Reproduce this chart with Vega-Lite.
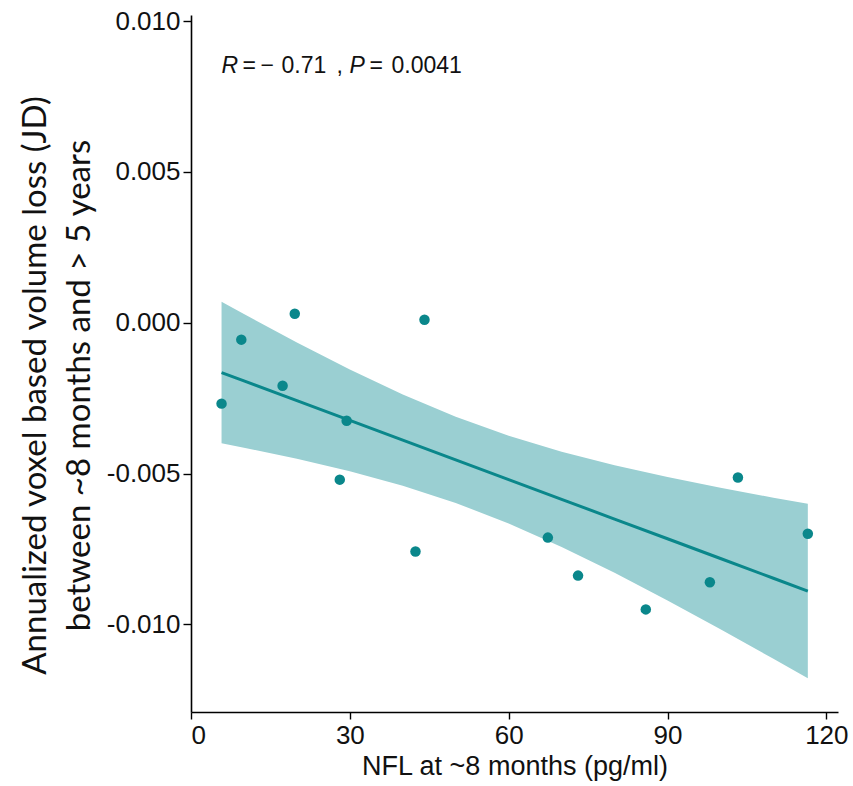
{
  "$schema": "https://vega.github.io/schema/vega-lite/v6.json",
  "width": 647,
  "height": 697,
  "autosize": "none",
  "padding": {"left": 191, "top": 15, "right": 15, "bottom": 74},
  "background": "white",
  "config": {
    "view": {"stroke": null},
    "axis": {"grid": false, "domainColor": "#000", "domainWidth": 1.6, "tickColor": "#000", "tickWidth": 1.4, "labelFont": "Liberation Sans", "labelColor": "#111", "titleColor": "#111", "titleFontWeight": "normal"}
  },
  "datasets": {
    "points": [
      {"nfl": 5.77, "loss": -0.00268},
      {"nfl": 9.5, "loss": -0.00056},
      {"nfl": 17.3, "loss": -0.00209},
      {"nfl": 19.6, "loss": 0.0003},
      {"nfl": 28.1, "loss": -0.0052},
      {"nfl": 29.4, "loss": -0.00325},
      {"nfl": 42.4, "loss": -0.00758},
      {"nfl": 44.1, "loss": 0.0001},
      {"nfl": 67.4, "loss": -0.00712},
      {"nfl": 73.1, "loss": -0.00838},
      {"nfl": 85.9, "loss": -0.0095},
      {"nfl": 98.0, "loss": -0.0086},
      {"nfl": 103.3, "loss": -0.00513},
      {"nfl": 116.5, "loss": -0.00699}
    ],
    "band": [
      {"nfl": 5.77, "fit": -0.00165, "lower": -0.003995, "upper": 0.000695},
      {"nfl": 10, "fit": -0.001927, "lower": -0.004142, "upper": 0.000288},
      {"nfl": 20, "fit": -0.002581, "lower": -0.00451, "upper": -0.000652},
      {"nfl": 30, "fit": -0.003235, "lower": -0.004923, "upper": -0.001547},
      {"nfl": 40, "fit": -0.003889, "lower": -0.005402, "upper": -0.002376},
      {"nfl": 50, "fit": -0.004543, "lower": -0.005972, "upper": -0.003114},
      {"nfl": 60, "fit": -0.005197, "lower": -0.006649, "upper": -0.003745},
      {"nfl": 70, "fit": -0.005851, "lower": -0.007428, "upper": -0.004274},
      {"nfl": 80, "fit": -0.006505, "lower": -0.008288, "upper": -0.004722},
      {"nfl": 90, "fit": -0.007159, "lower": -0.009205, "upper": -0.005113},
      {"nfl": 100, "fit": -0.007813, "lower": -0.010159, "upper": -0.005467},
      {"nfl": 110, "fit": -0.008467, "lower": -0.011138, "upper": -0.005796},
      {"nfl": 116.5, "fit": -0.008892, "lower": -0.011784, "upper": -0.006}
    ],
    "italic": [
      {"nfl": 5.76, "loss": 0.0085, "label": "R"},
      {"nfl": 29.94, "loss": 0.0085, "label": "P"}
    ],
    "regular": [
      {"nfl": 9.73, "loss": 0.0085, "label": "="},
      {"nfl": 13.13, "loss": 0.0085, "label": "−"},
      {"nfl": 17.09, "loss": 0.0085, "label": "0.71"},
      {"nfl": 27.48, "loss": 0.0085, "label": ","},
      {"nfl": 33.71, "loss": 0.0085, "label": "="},
      {"nfl": 37.87, "loss": 0.0085, "label": "0.0041"}
    ]
  },
  "encoding": {
    "x": {
      "field": "nfl", "type": "quantitative",
      "scale": {"domain": [0, 122.2], "nice": false, "zero": false},
      "axis": {"values": [0, 30, 60, 90, 120], "title": "NFL at ~8 months (pg/ml)", "titleFont": "Liberation Sans", "titleFontSize": 27, "labelFontSize": 26, "tickSize": 7, "labelPadding": 3, "titlePadding": 5}
    }
  },
  "layer": [
    {
      "data": {"name": "band"},
      "mark": {"type": "area", "color": "#9ACFD2", "opacity": 1},
      "encoding": {
        "y": {"field": "lower", "type": "quantitative",
          "scale": {"domain": [-0.0129, 0.0102], "nice": false, "zero": false},
          "axis": {"values": [-0.01, -0.005, 0, 0.005, 0.01], "labelExpr": "replace(format(datum.value, '.3f'), '\u2212', '-')", "title": ["Annualized voxel based volume loss (JD)", "between ~8 months and > 5 years"], "titleFont": "Lato", "titleFontSize": 33, "titleLineHeight": 44, "titleY": 370, "labelFontSize": 26, "tickSize": 8, "labelPadding": 3, "titlePadding": 10}},
        "y2": {"field": "upper"}
      }
    },
    {
      "data": {"name": "band"},
      "mark": {"type": "line", "color": "#0A878B", "strokeWidth": 3},
      "encoding": {"y": {"field": "fit", "type": "quantitative"}}
    },
    {
      "data": {"name": "points"},
      "mark": {"type": "circle", "color": "#0A878B", "opacity": 1, "size": 110},
      "encoding": {"y": {"field": "loss", "type": "quantitative"}}
    },
    {
      "data": {"name": "italic"},
      "mark": {"type": "text", "align": "left", "baseline": "middle", "font": "Liberation Sans", "fontStyle": "italic", "fontSize": 23, "color": "#111"},
      "encoding": {"y": {"field": "loss", "type": "quantitative"}, "text": {"field": "label"}}
    },
    {
      "data": {"name": "regular"},
      "mark": {"type": "text", "align": "left", "baseline": "middle", "font": "Liberation Sans", "fontSize": 23, "color": "#111"},
      "encoding": {"y": {"field": "loss", "type": "quantitative"}, "text": {"field": "label"}}
    }
  ]
}
